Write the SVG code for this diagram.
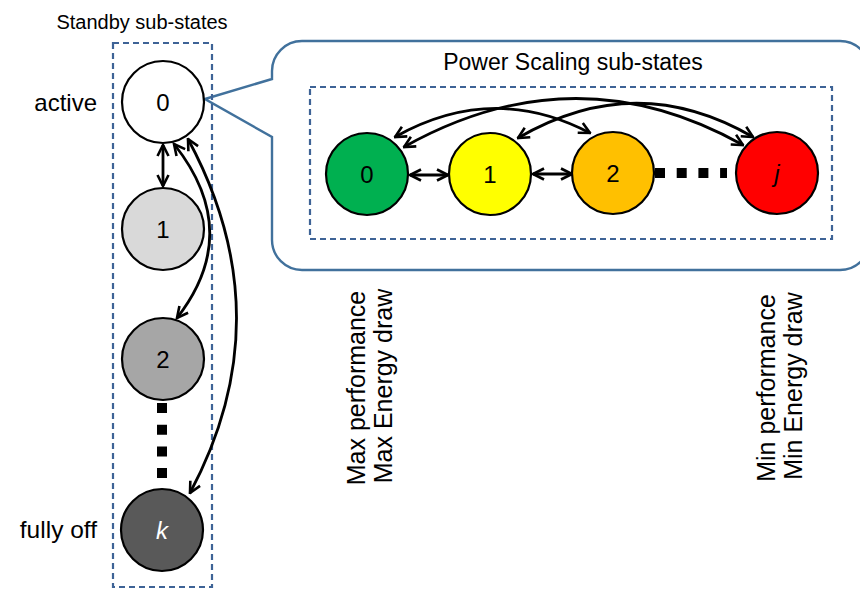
<svg xmlns="http://www.w3.org/2000/svg" width="860" height="589" viewBox="0 0 860 589">
<style>
.lbl{font-family:"Liberation Sans",Arial,sans-serif;fill:#000}
.num{font-family:"Liberation Sans",Arial,sans-serif;font-size:24px;text-anchor:middle}
.node{stroke:#000;stroke-width:2.2}
.dash{fill:none;stroke:#3e6396;stroke-width:2.2;stroke-dasharray:6 4}
.conn{fill:none;stroke:#000;stroke-width:2.8}
.dots{fill:none;stroke:#000;stroke-width:10;stroke-dasharray:10 11.7}
</style>
<defs>
<marker id="ah" viewBox="0 0 14 14" refX="12.5" refY="7" markerWidth="14" markerHeight="14" markerUnits="userSpaceOnUse" orient="auto-start-reverse">
<path d="M1.5,1.5 L12.5,7 L1.5,12.5" fill="none" stroke="#000" stroke-width="2.6"/>
</marker>
</defs>
<rect width="860" height="589" fill="#fff"/>

<g id="callout">
<path d="M205,99 L272,79 L272,71 A30,30 0 0 1 302,41 L840,41 A30,30 0 0 1 870,71 L870,240 A30,30 0 0 1 840,270 L302,270 A30,30 0 0 1 272,240 L272,137 Z" fill="none" stroke="#41719c" stroke-width="2.4"/>
</g>

<g id="standby-box">
<rect class="dash" x="113" y="43" width="99" height="544"/>
<text class="lbl" x="142" y="29" font-size="20" text-anchor="middle">Standby sub-states</text>
</g>
<g id="power-box">
<rect class="dash" x="310" y="87" width="522" height="152"/>
<text class="lbl" x="573" y="70" font-size="23" text-anchor="middle">Power Scaling sub-states</text>
</g>

<g id="connectors">
<line class="conn" x1="163" y1="145" x2="163" y2="186" marker-start="url(#ah)" marker-end="url(#ah)"/>
<path class="conn" d="M174,144 Q244,232 177,318" marker-start="url(#ah)" marker-end="url(#ah)"/>
<path class="conn" d="M188,139 Q284,317 190,493" marker-start="url(#ah)" marker-end="url(#ah)"/>
<line class="dots" x1="162" y1="403" x2="162" y2="479"/>
<line class="conn" x1="410" y1="175" x2="448" y2="175" marker-start="url(#ah)" marker-end="url(#ah)"/>
<line class="conn" x1="533" y1="174" x2="572" y2="174" marker-start="url(#ah)" marker-end="url(#ah)"/>
<line class="dots" x1="655" y1="173" x2="727" y2="173"/>
<path class="conn" d="M395,137 Q493,82 590,133" marker-start="url(#ah)" marker-end="url(#ah)"/>
<path class="conn" d="M404,147 Q575,51 743,145" marker-start="url(#ah)" marker-end="url(#ah)"/>
<path class="conn" d="M518,138 Q636,69 753,137" marker-start="url(#ah)" marker-end="url(#ah)"/>
</g>

<g id="s0"><circle class="node" cx="163" cy="102" r="41" fill="#fff"/><text class="num" x="163" y="111">0</text></g>
<g id="s1"><circle class="node" cx="163" cy="229" r="41" fill="#d9d9d9"/><text class="num" x="163" y="238">1</text></g>
<g id="s2"><circle class="node" cx="163" cy="359" r="41" fill="#a6a6a6"/><text class="num" x="163" y="368">2</text></g>
<g id="sk"><circle class="node" cx="162" cy="530" r="41" fill="#595959"/><text class="num" x="162" y="539" fill="#fff" font-style="italic">k</text></g>

<g id="p0"><circle class="node" cx="367" cy="174" r="41" fill="#00b050"/><text class="num" x="367" y="183">0</text></g>
<g id="p1"><circle class="node" cx="490" cy="174" r="41" fill="#ffff00"/><text class="num" x="490" y="183">1</text></g>
<g id="p2"><circle class="node" cx="613" cy="173" r="41" fill="#ffc000"/><text class="num" x="613" y="182">2</text></g>
<g id="pj"><circle class="node" cx="777" cy="173" r="41" fill="#ff0000"/><text class="num" x="777" y="182" font-style="italic">j</text></g>

<g id="labels">
<text class="lbl" x="97" y="111" font-size="24" text-anchor="end">active</text>
<text class="lbl" x="97" y="538" font-size="24.5" text-anchor="end">fully off</text>
<text class="lbl" font-size="25" text-anchor="middle" transform="translate(365,388) rotate(-90)">Max performance</text>
<text class="lbl" font-size="25" text-anchor="middle" transform="translate(392,386) rotate(-90)">Max Energy draw</text>
<text class="lbl" font-size="25" text-anchor="middle" transform="translate(775,388) rotate(-90)">Min performance</text>
<text class="lbl" font-size="25" text-anchor="middle" transform="translate(802,386) rotate(-90)">Min Energy draw</text>
</g>
</svg>
